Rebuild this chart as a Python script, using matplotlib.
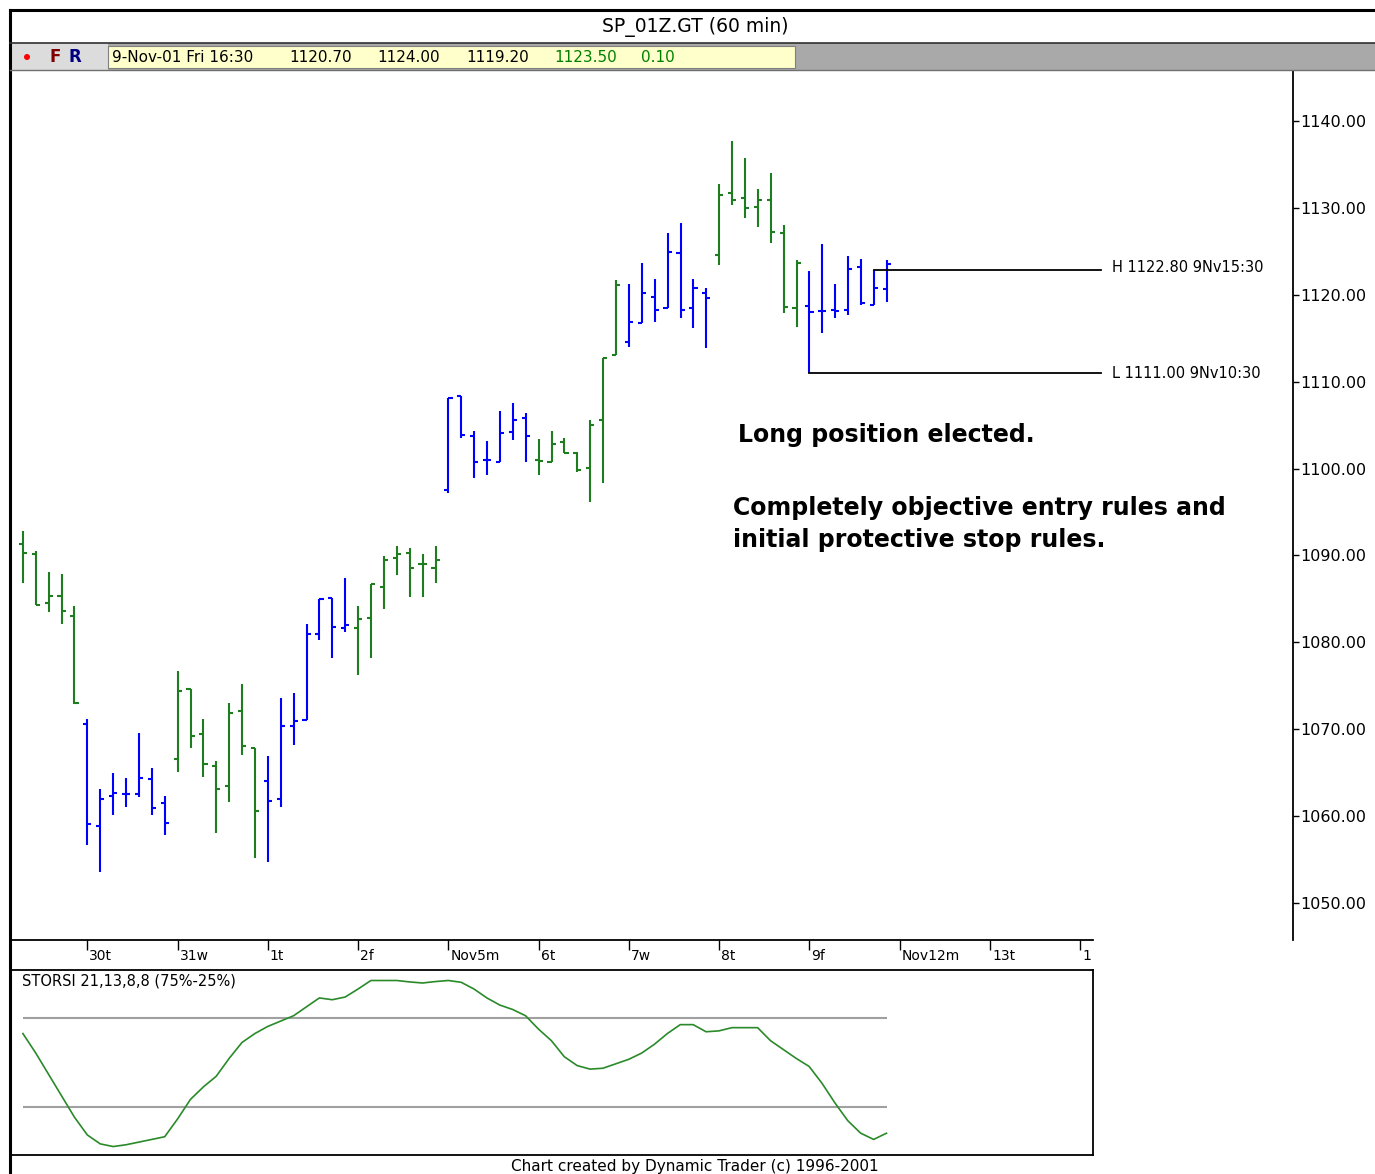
import numpy as np
import matplotlib
matplotlib.use("Agg")
import matplotlib.pyplot as plt
import matplotlib.transforms as mtransforms
from matplotlib.lines import Line2D
from matplotlib.patches import Rectangle, Ellipse

# --- datos: barras de 60 min, 29-Oct-01 (parcial) a 9-Nov-01 ---
opens = [1091.3, 1090.2, 1084.5, 1085.3, 1083.0,
         1070.6, 1058.9, 1062.3, 1062.6, 1062.6, 1064.3, 1061.5,
         1066.6, 1074.6, 1069.5, 1065.8, 1063.5, 1072.1, 1067.8,
         1064.1, 1062.0, 1070.4, 1071.1, 1081.0, 1085.1, 1081.7,
         1081.7, 1082.8, 1086.4, 1089.7, 1090.3, 1089.0, 1088.6,
         1097.5, 1108.4, 1103.8, 1101.0, 1100.8, 1104.2, 1105.8,
         1101.0, 1100.8, 1103.1, 1101.8, 1100.1, 1105.6, 1113.1,
         1114.6, 1116.8, 1119.7, 1118.5, 1124.8, 1118.5, 1120.2,
         1124.6, 1131.7, 1131.1, 1130.1, 1130.9, 1127.1, 1118.5,
         1118.7, 1118.1, 1118.3, 1118.3, 1123.2, 1118.8, 1120.7]
highs = [1092.8, 1090.5, 1088.1, 1087.9, 1084.2,
         1071.2, 1063.1, 1065.0, 1064.4, 1069.6, 1065.5, 1062.3,
         1076.7, 1074.6, 1071.2, 1066.4, 1073.0, 1075.2, 1067.8,
         1066.9, 1073.6, 1074.2, 1082.1, 1085.0, 1085.1, 1087.4,
         1084.2, 1086.7, 1089.9, 1091.1, 1090.9, 1090.2, 1091.1,
         1108.1, 1108.4, 1104.3, 1103.2, 1106.6, 1107.5, 1106.4,
         1103.4, 1104.3, 1103.5, 1101.9, 1105.6, 1112.7, 1121.7,
         1121.2, 1123.7, 1121.8, 1127.1, 1128.3, 1121.8, 1120.8,
         1132.8, 1137.7, 1135.7, 1132.2, 1134.0, 1128.0, 1124.0,
         1122.7, 1125.8, 1121.2, 1124.5, 1124.1, 1122.8, 1124.0]
lows = [1086.8, 1084.3, 1083.5, 1082.1, 1072.9,
        1056.7, 1053.6, 1060.1, 1061.1, 1062.2, 1060.1, 1057.8,
        1065.1, 1067.8, 1064.5, 1058.1, 1061.6, 1067.0, 1055.2,
        1054.7, 1061.1, 1068.2, 1071.1, 1080.3, 1078.2, 1081.2,
        1076.3, 1078.2, 1083.8, 1087.8, 1085.2, 1085.2, 1086.8,
        1097.2, 1103.5, 1098.9, 1099.3, 1100.8, 1103.3, 1100.8,
        1099.3, 1100.8, 1101.8, 1099.6, 1096.2, 1098.3, 1113.1,
        1114.0, 1116.8, 1116.9, 1118.5, 1117.3, 1116.2, 1113.9,
        1123.4, 1130.3, 1128.8, 1127.8, 1126.0, 1117.9, 1116.3,
        1111.0, 1115.6, 1117.3, 1117.7, 1118.8, 1118.8, 1119.2]
closes = [1090.3, 1084.3, 1085.3, 1083.6, 1073.0,
          1059.1, 1062.0, 1062.7, 1062.6, 1064.4, 1060.9, 1059.2,
          1074.4, 1069.2, 1066.0, 1063.1, 1071.9, 1068.1, 1060.6,
          1061.8, 1070.4, 1071.0, 1081.0, 1085.0, 1081.8, 1082.0,
          1082.7, 1086.7, 1089.5, 1090.2, 1088.6, 1089.0, 1089.5,
          1108.1, 1103.9, 1100.8, 1101.0, 1104.1, 1105.6, 1103.8,
          1100.9, 1102.8, 1101.8, 1099.8, 1105.0, 1112.7, 1121.1,
          1116.9, 1120.2, 1118.3, 1124.9, 1118.3, 1120.8, 1119.6,
          1131.5, 1130.9, 1130.0, 1130.9, 1127.2, 1118.6, 1123.7,
          1118.0, 1118.1, 1118.1, 1123.0, 1119.1, 1120.8, 1123.5]

# STORSI 21,13,8,8 (%)
storsi = [66, 55, 43, 31, 19, 9, 4, 2.5, 3.5, 5, 6.5, 8,
          18, 29, 36, 42, 52, 61, 66, 70, 73, 76, 81, 86,
          85, 86.5, 91, 95.8, 95.8, 95.8, 95, 94.4, 95.2, 95.8,
          94.8, 91, 86, 82, 79.5, 76, 68.5, 62, 53, 48,
          46, 46.5, 49, 51.5, 55, 60, 66, 71, 71, 67,
          67.5, 69.3, 69.3, 69.3, 62, 57, 52, 47.5, 38, 27,
          17, 10, 6.5, 10]

day_starts = [5, 12, 19, 26, 33, 40, 47, 54, 61, 68, 75, 82]
day_labels = ["30t", "31w", "1t", "2f", "Nov5m", "6t", "7w", "8t", "9f",
              "Nov12m", "13t", "1"]
price_ticks = [1050, 1060, 1070, 1080, 1090, 1100, 1110, 1120, 1130, 1140]

hi_level, hi_bar = 1122.80, 66
lo_level, lo_bar = 1111.00, 61

GREEN = "#1e7d1e"
BLUE = "#0000ff"

W, H = 1375, 1174


def fx(x):
    return x / W


def fy(y):
    return 1 - y / H


fig = plt.figure(figsize=(W / 100, H / 100), dpi=100)
fig.patch.set_facecolor("white")

# --- cabecera ---
fig.add_artist(Rectangle((fx(10), fy(70)), fx(1375) - fx(10), fy(43) - fy(70),
                         transform=fig.transFigure, facecolor="#a9a9a9", edgecolor="none"))
fig.add_artist(Rectangle((fx(10), fy(70)), fx(108) - fx(10), fy(43) - fy(70),
                         transform=fig.transFigure, facecolor="#dcdcdc", edgecolor="none"))
fig.add_artist(Rectangle((fx(108), fy(68)), fx(795) - fx(108), fy(46) - fy(68),
                         transform=fig.transFigure, facecolor="#ffffcc", edgecolor="#808080", lw=0.8))
fig.add_artist(Line2D([fx(10), fx(1375)], [fy(10), fy(10)], color="black", lw=2.2))
fig.add_artist(Line2D([fx(10), fx(10)], [fy(10), fy(1174)], color="black", lw=2.2))
fig.add_artist(Line2D([fx(10), fx(1375)], [fy(42.5), fy(42.5)], color="#303030", lw=1.2))
fig.add_artist(Line2D([fx(10), fx(1375)], [fy(69.5), fy(69.5)], color="#707070", lw=1.0))
fig.add_artist(Ellipse((fx(27), fy(57)), 6 / W, 6 / H, transform=fig.transFigure,
                       facecolor="red", edgecolor="none"))

fig.text(fx(695), fy(27), "SP_01Z.GT (60 min)", ha="center", va="center", fontsize=13.5)
fig.text(fx(49), fy(57), "F", ha="left", va="center", fontsize=12, color="#800000", fontweight="bold")
fig.text(fx(68), fy(57), "R", ha="left", va="center", fontsize=12, color="#000080", fontweight="bold")
header_items = [(112, "9-Nov-01 Fri 16:30", "black"), (289, "1120.70", "black"),
                (377, "1124.00", "black"), (466, "1119.20", "black"),
                (554, "1123.50", "#008000"), (641, "0.10", "#008000")]
for x, s, c in header_items:
    fig.text(fx(x), fy(57.5), s, ha="left", va="center", fontsize=11, color=c)

# --- grafico de precios ---
idx = np.arange(len(opens))
cols = [GREEN if ((i - 5) // 7 + 1) % 2 == 0 else BLUE for i in idx]

ax = fig.add_axes([fx(10), fy(940), fx(1293) - fx(10), fy(70) - fy(940)])
ax.set_xlim(-1.0, 98.5)
ax.set_ylim(1045.75, 1145.87)
ax.vlines(idx, lows, highs, colors=cols, lw=1.5)
ax.hlines(opens, idx - 0.32, idx, colors=cols, lw=1.5)
ax.hlines(closes, idx, idx + 0.32, colors=cols, lw=1.5)

ax.plot([hi_bar, hi_bar + 17.6], [hi_level, hi_level], color="black", lw=1.3)
ax.plot([lo_bar, lo_bar + 22.6], [lo_level, lo_level], color="black", lw=1.3)
ax.plot([lo_bar, lo_bar], [lo_level, lows[lo_bar]], color=BLUE, lw=1.5)

ax.spines["left"].set_visible(False)
ax.spines["top"].set_visible(False)
ax.spines["right"].set_linewidth(1.3)
ax.spines["bottom"].set_linewidth(1.3)
ax.spines["bottom"].set_bounds(-1.0, 83.0)

ax.yaxis.tick_right()
ax.set_yticks(price_ticks)
ax.set_yticklabels([f"{v:.2f}" for v in price_ticks])
ax.tick_params(axis="y", direction="out", length=4, width=1, pad=1, labelsize=11.5)

ax.set_xticks(day_starts)
ax.set_xticklabels([""] * len(day_starts))
ax.tick_params(axis="x", direction="out", length=7, width=1)
lab_tr = mtransforms.offset_copy(
    mtransforms.blended_transform_factory(ax.transData, ax.transAxes),
    fig=fig, x=2, y=-9, units="dots")
for pos, lab in zip(day_starts, day_labels):
    ax.text(pos, 0, lab, transform=lab_tr, ha="left", va="top", fontsize=10)

fig.text(fx(1112), fy(268), "H 1122.80 9Nv15:30", ha="left", va="center", fontsize=10.5)
fig.text(fx(1112), fy(373), "L 1111.00 9Nv10:30", ha="left", va="center", fontsize=10.5)

fig.text(fx(738), fy(435), "Long position elected.", ha="left", va="center",
         fontsize=17, fontweight="bold")
fig.text(fx(733), fy(508), "Completely objective entry rules and", ha="left", va="center",
         fontsize=17, fontweight="bold")
fig.text(fx(733), fy(540), "initial protective stop rules.", ha="left", va="center",
         fontsize=17, fontweight="bold")

# --- STORSI ---
ax2 = fig.add_axes([fx(10), fy(1155), fx(1093) - fx(10), fy(970) - fy(1155)])
ax2.set_xlim(-1.0, 83.02)
ax2.set_ylim(-2.25, 101.7)
ax2.hlines([75, 25], 0, len(storsi) - 1, color="#a0a0a0", lw=1.5)
ax2.plot(idx, storsi, color="#2a8a2a", lw=1.2)
ax2.set_xticks([])
ax2.set_yticks([])
for sp in ax2.spines.values():
    sp.set_linewidth(1.3)
fig.text(fx(22), fy(981), "STORSI 21,13,8,8 (75%-25%)", ha="left", va="center", fontsize=10.5)

fig.text(fx(695), fy(1167), "Chart created by Dynamic Trader (c) 1996-2001", ha="center",
         va="center", fontsize=11)

fig.savefig("out.png", dpi=100)
